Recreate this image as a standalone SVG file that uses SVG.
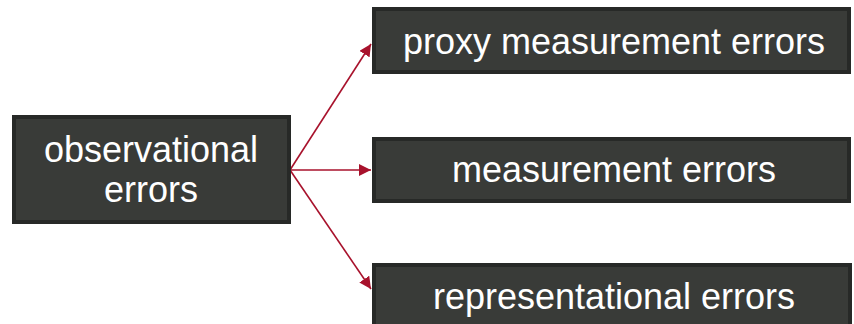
<svg xmlns="http://www.w3.org/2000/svg" width="854" height="324" viewBox="0 0 854 324">
<style>
.box{fill:#393b38;stroke:#272927;stroke-width:4}
.t{font-family:"Liberation Sans",Arial,sans-serif;font-size:36px;fill:#ffffff;text-anchor:middle}
.c{stroke:#a8122c;stroke-width:1.6;fill:none}
</style>
<defs>
<marker id="ah" viewBox="0 0 10 10" refX="10" refY="5" markerWidth="6.5" markerHeight="6.5" markerUnits="userSpaceOnUse" orient="auto">
<path d="M0,0 L10,5 L0,10 z" fill="#a8122c"/>
</marker>
<marker id="a" viewBox="0 0 12 12" refX="12" refY="6" markerWidth="12" markerHeight="12" markerUnits="userSpaceOnUse" orient="auto">
<path d="M0,0 L12,6 L0,12 z" fill="#a8122c"/>
</marker>
</defs>
<g id="connectors">
<line class="c" x1="290" y1="170" x2="371" y2="44" marker-end="url(#a)"/>
<line class="c" x1="290" y1="170" x2="371" y2="170" marker-end="url(#a)"/>
<line class="c" x1="290" y1="170" x2="371" y2="289" marker-end="url(#a)"/>
</g>
<g id="observational">
<rect class="box" x="14" y="117" width="275" height="105"/>
<text class="t" x="151" y="162">observational</text>
<text class="t" x="151" y="202">errors</text>
</g>
<g id="proxy">
<rect class="box" x="374" y="9" width="475" height="63"/>
<text class="t" x="614" y="54">proxy measurement errors</text>
</g>
<g id="measurement">
<rect class="box" x="374" y="139" width="475" height="62"/>
<text class="t" x="614" y="182">measurement errors</text>
</g>
<g id="representational">
<rect class="box" x="374" y="265" width="476" height="62"/>
<text class="t" x="614" y="309">representational errors</text>
</g>
</svg>
